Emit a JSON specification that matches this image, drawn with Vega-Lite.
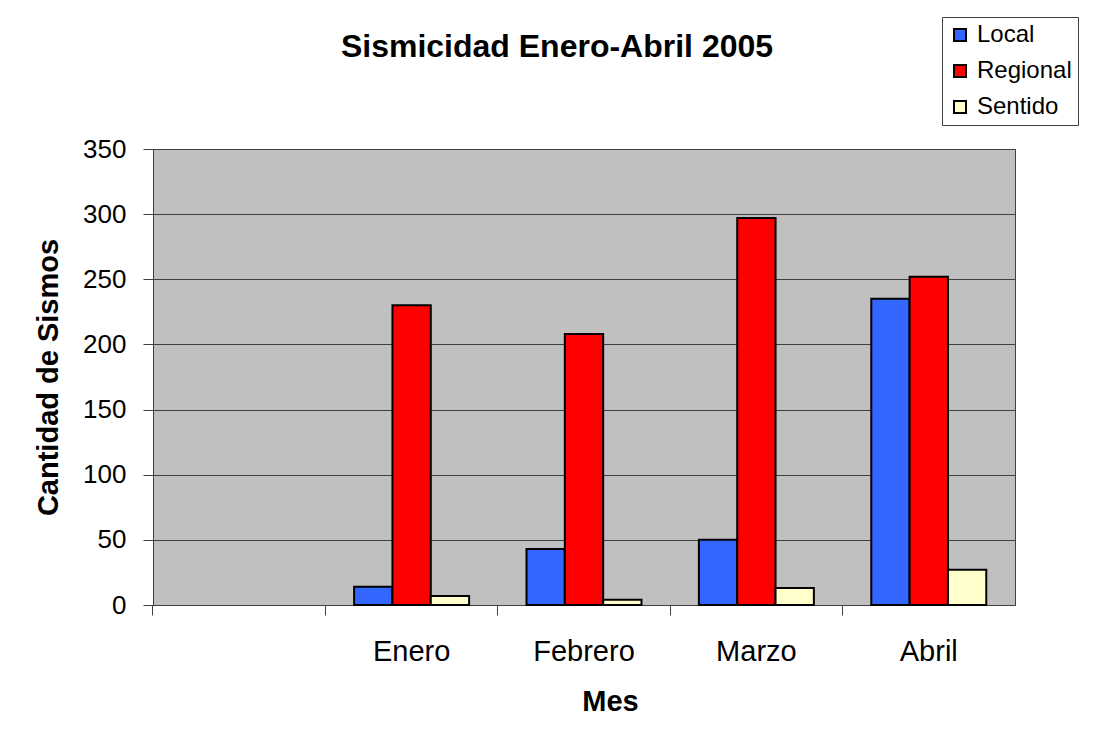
{
  "$schema": "https://vega.github.io/schema/vega-lite/v6.json",
  "autosize": {"type": "none"},
  "width": 862,
  "height": 456,
  "padding": {"left": 153, "top": 149, "right": 79, "bottom": 130},
  "background": "white",
  "config": {
    "font": "Liberation Sans",
    "view": {"fill": "#C0C0C0", "stroke": "#404040", "strokeWidth": 1}
  },
  "title": {
    "text": "Sismicidad Enero-Abril 2005",
    "font": "Liberation Sans",
    "fontSize": 32,
    "fontWeight": "bold",
    "color": "black",
    "frame": "group",
    "anchor": "middle",
    "baseline": "alphabetic",
    "offset": -72,
    "dx": -27
  },
  "data": {
    "values": [
      {"mes": "Enero", "tipo": "Local", "cantidad": 14},
      {"mes": "Enero", "tipo": "Regional", "cantidad": 230},
      {"mes": "Enero", "tipo": "Sentido", "cantidad": 7},
      {"mes": "Febrero", "tipo": "Local", "cantidad": 43},
      {"mes": "Febrero", "tipo": "Regional", "cantidad": 208},
      {"mes": "Febrero", "tipo": "Sentido", "cantidad": 4},
      {"mes": "Marzo", "tipo": "Local", "cantidad": 50},
      {"mes": "Marzo", "tipo": "Regional", "cantidad": 297},
      {"mes": "Marzo", "tipo": "Sentido", "cantidad": 13},
      {"mes": "Abril", "tipo": "Local", "cantidad": 235},
      {"mes": "Abril", "tipo": "Regional", "cantidad": 252},
      {"mes": "Abril", "tipo": "Sentido", "cantidad": 27}
    ]
  },
  "mark": {"type": "bar", "stroke": "black", "strokeWidth": 2},
  "encoding": {
    "x": {
      "field": "mes",
      "type": "nominal",
      "sort": null,
      "scale": {"domain": [" ", "Enero", "Febrero", "Marzo", "Abril"], "paddingInner": 0.333, "paddingOuter": 0.1667},
      "axis": {
        "title": "Mes",
        "bandPosition": -0.25,
        "labelAngle": 0,
        "labelFontSize": 29,
        "labelColor": "black",
        "labelPadding": 22,
        "tickSize": 10,
        "tickColor": "#404040",
        "domainColor": "#404040",
        "titleFontSize": 29,
        "titleFontWeight": "bold",
        "titleColor": "black",
        "titleBaseline": "alphabetic",
        "titleX": 457,
        "titleY": 105
      }
    },
    "xOffset": {
      "field": "tipo",
      "type": "nominal",
      "scale": {"domain": ["Local", "Regional", "Sentido"], "paddingInner": 0, "paddingOuter": 0}
    },
    "y": {
      "field": "cantidad",
      "type": "quantitative",
      "scale": {"domain": [0, 350], "nice": false},
      "axis": {
        "title": "Cantidad de Sismos",
        "values": [0, 50, 100, 150, 200, 250, 300, 350],
        "labelFontSize": 26,
        "labelColor": "black",
        "labelPadding": 17,
        "tickSize": 10,
        "tickColor": "#404040",
        "domainColor": "#404040",
        "gridColor": "#404040",
        "gridOpacity": 1,
        "titleFontSize": 29,
        "titleFontWeight": "bold",
        "titleColor": "black",
        "titleAngle": -90,
        "titleAlign": "center",
        "titleBaseline": "alphabetic",
        "titleX": -96,
        "titleY": 228
      }
    },
    "color": {
      "field": "tipo",
      "type": "nominal",
      "scale": {"domain": ["Local", "Regional", "Sentido"], "range": ["#3366FF", "#FF0000", "#FFFFCC"]},
      "legend": {
        "title": null,
        "orient": "none",
        "legendX": 789,
        "legendY": -132,
        "direction": "vertical",
        "padding": 6,
        "strokeColor": "#404040",
        "fillColor": "white",
        "symbolType": "square",
        "symbolSize": 144,
        "symbolStrokeColor": "black",
        "symbolStrokeWidth": 2,
        "symbolOpacity": 1,
        "labelFontSize": 24,
        "labelColor": "black",
        "labelOffset": 5,
        "rowPadding": 12
      }
    }
  }
}
